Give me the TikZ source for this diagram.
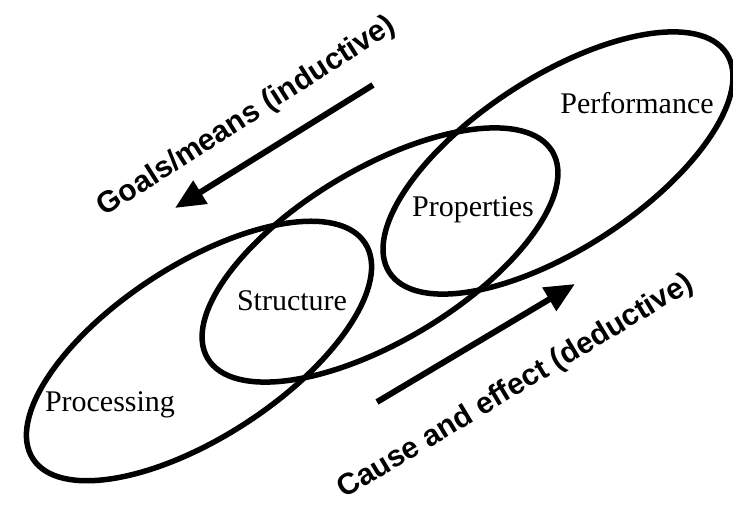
\documentclass[tikz,border=0pt]{standalone}
\usepackage{fontspec}
\setmainfont{Liberation Serif}
\setsansfont{Liberation Sans}
\usetikzlibrary{shapes.geometric, arrows.meta, positioning}

\begin{document}
\begin{tikzpicture}[
  x=1pt, y=1pt,
  >={Triangle[length=30pt, width=26pt]},
  every node/.style={font=\fontsize{30}{36}\selectfont},
  region/.style={draw, ellipse, line width=5.5pt, minimum width=402pt, minimum height=172pt, inner sep=0pt},
  flow/.style={->, line width=6pt},
  flowlabel/.style={font=\sffamily\bfseries\fontsize{30}{36}\selectfont}
]
\useasboundingbox (0,0) rectangle (733,510);

% Regions
\node[region, rotate=33, minimum width=396pt] (proc) at (199,159) {};
\node[region, rotate=31] (mid) at (380,255) {};
\node[region, rotate=33] (perf) at (558,347) {};

% Labels
\node (Lproc) at (110,105) {Processing};
\node (Lstruct) at (292,209) {Structure};
\node (Lprop) at (473,300) {Properties};
\node (Lperf) at (637,407) {Performance};

% Goals/means arrow
\coordinate (g1) at (373,425);
\coordinate (g2) at (175,302);
\draw[flow] (g1) -- (g2);
\node[flowlabel, rotate=32.5] (goals) at (247,393) {Goals/means (inductive)};

% Cause and effect arrow
\coordinate (c1) at (377,108);
\coordinate (c2) at (575,226);
\draw[flow] (c1) -- (c2);
\node[flowlabel, rotate=31] (cause) at (516,123) {Cause and effect (deductive)};

\end{tikzpicture}
\end{document}
